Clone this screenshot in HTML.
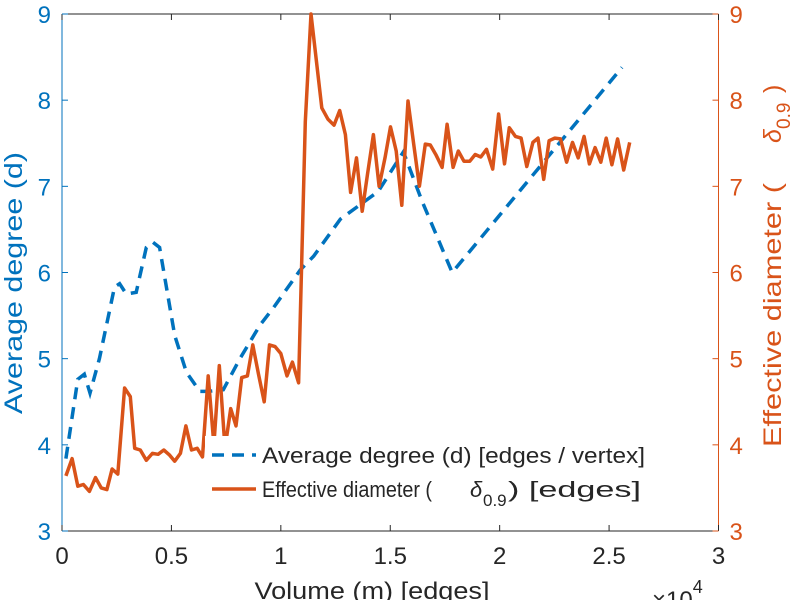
<!DOCTYPE html>
<html><head><meta charset="utf-8"><style>
html,body{margin:0;padding:0;background:#fff;}
svg{display:block;font-family:"Liberation Sans",sans-serif;}
</style></head><body>
<svg id="chart" width="795" height="600" viewBox="0 0 795 600" xmlns="http://www.w3.org/2000/svg">
</svg>
<script>
const xTicks=[0,0.5,1,1.5,2,2.5,3];
const xTickLabels=["0","0.5","1","1.5","2","2.5","3"];
const yTicks=[3,4,5,6,7,8,9];
const degX=[0.018,0.072,0.102,0.128,0.171,0.24,0.263,0.294,0.339,0.385,0.416,0.446,0.515,0.569,0.63,0.668,0.737,0.813,0.905,0.966,1.089,1.15,1.272,1.445,1.56,1.645,1.783,2.559];
const degY=[3.84,4.76,4.82,4.60,5.0,5.83,5.87,5.75,5.77,6.29,6.35,6.29,5.27,4.84,4.62,4.62,4.64,5.0,5.39,5.59,6.03,6.19,6.62,6.94,7.40,6.83,6.0,8.38];
const diaX=[0.018,0.046,0.072,0.098,0.125,0.153,0.179,0.205,0.229,0.255,0.286,0.312,0.332,0.358,0.385,0.413,0.439,0.465,0.492,0.515,0.541,0.566,0.592,0.618,0.642,0.668,0.694,0.719,0.745,0.771,0.795,0.821,0.847,0.872,0.898,0.924,0.948,0.974,1.0,1.028,1.053,1.081,1.112,1.138,1.187,1.215,1.243,1.269,1.295,1.319,1.346,1.372,1.396,1.423,1.449,1.476,1.501,1.527,1.553,1.581,1.607,1.633,1.660,1.683,1.710,1.737,1.760,1.787,1.811,1.837,1.863,1.888,1.914,1.940,1.968,1.995,2.022,2.044,2.072,2.098,2.124,2.152,2.175,2.201,2.226,2.252,2.278,2.306,2.333,2.359,2.386,2.410,2.436,2.462,2.487,2.513,2.539,2.567,2.594];
const diaY=[3.64,3.84,3.52,3.54,3.46,3.62,3.50,3.48,3.72,3.66,4.66,4.56,3.96,3.94,3.82,3.90,3.89,3.94,3.88,3.81,3.90,4.22,3.94,3.96,3.86,4.80,4.00,4.92,3.96,4.42,4.22,4.78,4.80,5.16,4.82,4.50,5.16,5.14,5.06,4.80,4.96,4.72,7.75,9.0,7.91,7.78,7.71,7.88,7.60,6.93,7.33,6.71,7.14,7.60,7.0,7.33,7.69,7.41,6.78,7.99,7.49,7.0,7.49,7.48,7.36,7.22,7.72,7.22,7.41,7.29,7.29,7.37,7.34,7.43,7.20,7.84,7.26,7.68,7.58,7.56,7.23,7.51,7.56,7.08,7.53,7.56,7.55,7.28,7.51,7.33,7.58,7.26,7.45,7.28,7.56,7.25,7.55,7.19,7.51];
const L=62,R=718.5,T=14,B=531;
const X=v=>L+(v-0)/(3-0)*(R-L);
const Y=v=>B-(v-3)/(9-3)*(B-T);
const NS="http://www.w3.org/2000/svg";
const svg=document.getElementById('chart');
function mk(tag,attrs,txt){const e=document.createElementNS(NS,tag);for(const k in attrs)e.setAttribute(k,attrs[k]);if(txt!==undefined)e.textContent=txt;svg.appendChild(e);return e;}
let e=mk('line',{x1:L,y1:T,x2:R,y2:T,stroke:'#262626','stroke-width':1});


e=mk('line',{x1:L,y1:B,x2:R,y2:B,stroke:'#262626','stroke-width':1});


e=mk('line',{x1:L,y1:T,x2:L,y2:B,stroke:'#0072BD','stroke-width':1});


e=mk('line',{x1:R,y1:T,x2:R,y2:B,stroke:'#D95319','stroke-width':1});


xTicks.forEach((t,i)=>{
 let a=mk('line',{x1:X(t),y1:B,x2:X(t),y2:B-6,stroke:'#262626'});
 
 
 a=mk('line',{x1:X(t),y1:T,x2:X(t),y2:T+6,stroke:'#262626'});
 
 
 a=mk('text',{x:X(t),y:B+33,'text-anchor':'middle','font-size':24,fill:'#262626'},xTickLabels[i]);
 
 
});
yTicks.forEach(t=>{
 let a=mk('line',{x1:L,y1:Y(t),x2:L+6,y2:Y(t),stroke:'#0072BD'});
 
 
 a=mk('line',{x1:R,y1:Y(t),x2:R-6,y2:Y(t),stroke:'#D95319'});
 
 
 a=mk('text',{x:L-11,y:Y(t)+9,'text-anchor':'end','font-size':24,fill:'#0072BD'},String(t));
 
 
 a=mk('text',{x:R+11,y:Y(t)+9,'text-anchor':'start','font-size':24,fill:'#D95319'},String(t));
 
 
});
let pd=degX.map((x,i)=>(i?'L':'M')+X(x).toFixed(1)+','+Y(degY[i]).toFixed(1)).join('');
e=mk('path',{d:pd,fill:'none',stroke:'#0072BD','stroke-width':3.5,'stroke-dasharray':'12,8'});


pd=diaX.map((x,i)=>(i?'L':'M')+X(x).toFixed(1)+','+Y(diaY[i]).toFixed(1)).join('');
e=mk('path',{d:pd,fill:'none',stroke:'#D95319','stroke-width':3.5,'stroke-linejoin':'round'});


</script>
<svg style="position:absolute;left:0;top:0" width="795" height="600">
<g font-family="Liberation Sans, sans-serif">
<rect x="205" y="436" width="448" height="74" fill="#fff"/>
<line x1="212" y1="455" x2="256" y2="455" stroke="#0072BD" stroke-width="3.5" stroke-dasharray="12,8"/>
<text x="262" y="463" font-size="22" fill="#262626" textLength="383" lengthAdjust="spacingAndGlyphs">Average degree (d) [edges / vertex]</text>
<line x1="212" y1="489" x2="256" y2="489" stroke="#D95319" stroke-width="3.5"/>
<g fill="#262626">
<text x="262" y="497" font-size="22" textLength="170" lengthAdjust="spacingAndGlyphs">Effective diameter (</text>
<text x="470" y="497" font-size="22" font-style="italic">δ</text>
<text x="483" y="506" font-size="17">0.9</text>
<text x="508" y="497" font-size="22" textLength="133" lengthAdjust="spacingAndGlyphs">) [edges]</text>
</g>
<text transform="translate(22,283) rotate(-90)" text-anchor="middle" font-size="25" fill="#0072BD" textLength="262" lengthAdjust="spacingAndGlyphs">Average degree (d)</text>
<g transform="translate(781,447) rotate(-90)" fill="#D95319">
<text x="0" y="0" font-size="25" textLength="264" lengthAdjust="spacingAndGlyphs">Effective diameter (</text>
<text x="304" y="0" font-size="25" font-style="italic">δ</text>
<text x="318" y="9" font-size="19">0.9</text>
<text x="354" y="0" font-size="25">)</text>
</g>
<text x="372" y="599" text-anchor="middle" font-size="24" fill="#262626" textLength="235" lengthAdjust="spacingAndGlyphs">Volume (m) [edges]</text>
<text x="652" y="608" font-size="24" fill="#262626">×10<tspan font-size="18" dy="-15">4</tspan></text>
</g>
</svg>
</body></html>
